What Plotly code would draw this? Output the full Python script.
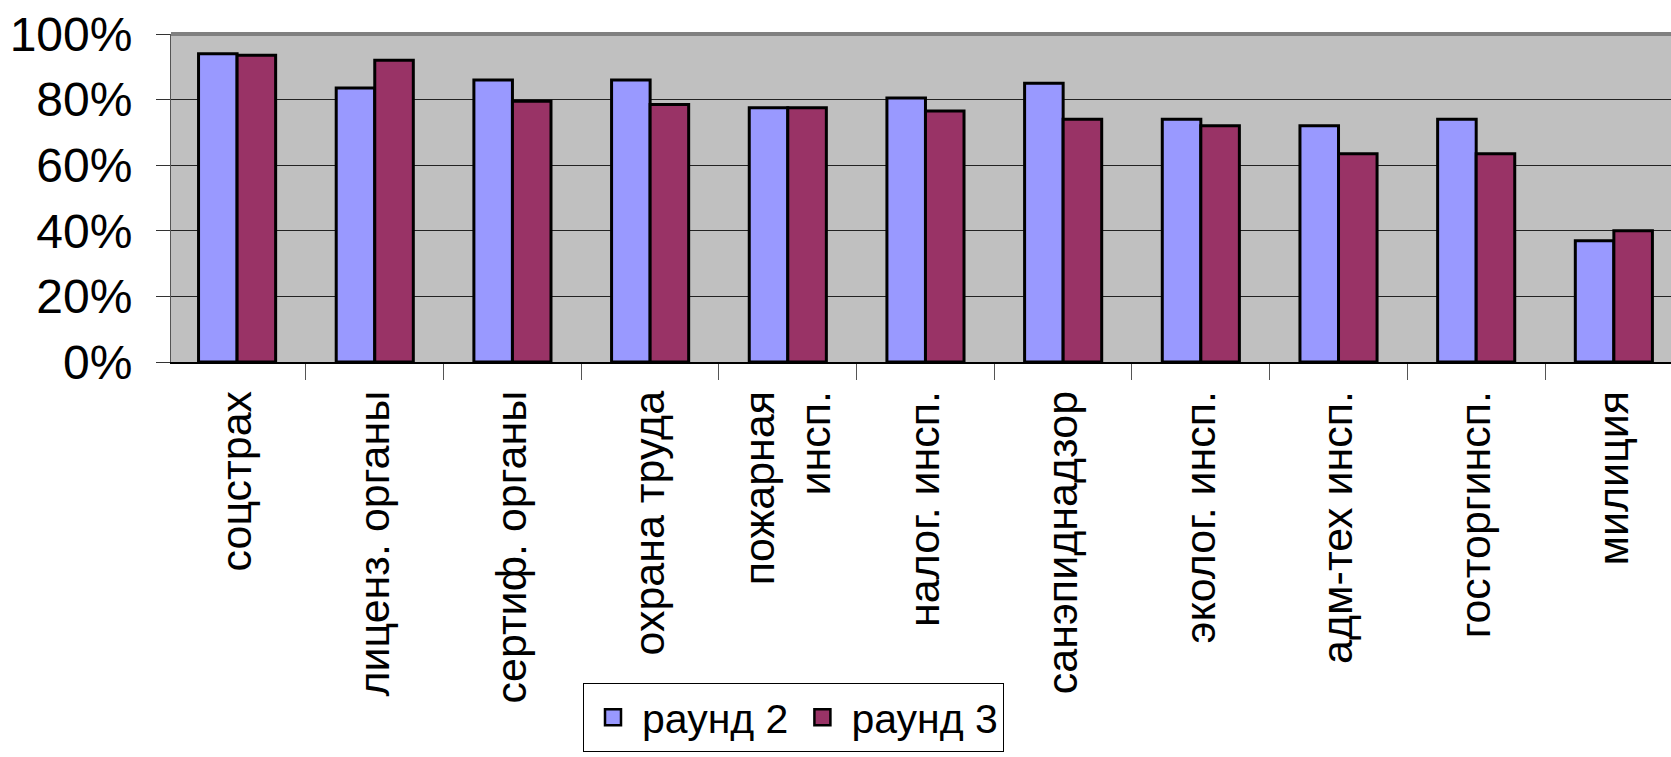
import plotly.graph_objects as go

categories = ["соцстрах", "лиценз. органы", "сертиф. органы", "охрана труда",
              "пожарная<br>инсп.", "налог. инсп.", "санэпиднадзор", "эколог. инсп.",
              "адм-тех инсп.", "госторгинсп.", "милиция"]
round2 = [0.94, 0.835, 0.86, 0.86, 0.775, 0.805, 0.85, 0.74, 0.72, 0.74, 0.37]
round3 = [0.935, 0.92, 0.795, 0.785, 0.775, 0.765, 0.74, 0.72, 0.635, 0.635, 0.40]
series_names = ["раунд 2", "раунд 3"]
series_colors = ["#9999FF", "#993366"]
y_ticks = [0, 0.2, 0.4, 0.6, 0.8, 1.0]

FONT = "Liberation Sans, Arial, sans-serif"

fig = go.Figure()
for name, vals, col in zip(series_names, [round2, round3], series_colors):
    fig.add_trace(go.Bar(
        x=categories, y=vals, name=name, showlegend=False,
        marker=dict(color=col, line=dict(color="black", width=3)),
    ))
# legend entries (larger square swatches than the default bar symbol)
for name, col in zip(series_names, series_colors):
    fig.add_trace(go.Scatter(
        x=[None], y=[None], mode="markers", name=name,
        marker=dict(symbol="square", size=16, color=col,
                    line=dict(color="black", width=2.5)),
    ))

fig.update_layout(
    width=1671, height=757,
    margin=dict(l=171, r=0, t=34, b=395, pad=0, autoexpand=False),
    paper_bgcolor="white", plot_bgcolor="#C0C0C0",
    barmode="group", bargap=0.44, bargroupgap=0,
    font=dict(family=FONT, color="black"),
    showlegend=True,
    legend=dict(
        orientation="h", xref="container", yref="container",
        x=583 / 1671, xanchor="left", y=1 - 683 / 757, yanchor="top",
        bgcolor="white", bordercolor="black", borderwidth=1,
        font=dict(size=41, family=FONT, color="black"),
        itemclick=False, itemwidth=48,
    ),
    xaxis=dict(
        range=[-0.48, 10.415], showgrid=False, tickangle=-90,
        ticks="outside", tickson="boundaries", ticklen=16, tickcolor="#555555",
        showline=True, linecolor="black", linewidth=1.5,
        tickfont=dict(size=43, family=FONT, color="black"),
        ticklabelstandoff=10, automargin=False,
        fixedrange=True,
    ),
    yaxis=dict(
        range=[0, 1], tickvals=y_ticks, tickformat=".0%",
        showgrid=True, gridcolor="#222222", gridwidth=1,
        ticks="outside", ticklen=14, tickcolor="#333333",
        showline=True, linecolor="#555555", linewidth=1,
        zeroline=False,
        tickfont=dict(size=48, family=FONT, color="black"),
        ticklabelstandoff=14, automargin=False,
        fixedrange=True,
    ),
    shapes=[dict(type="line", xref="paper", yref="paper", x0=0, x1=1, y0=1, y1=1,
                 line=dict(color="#808080", width=4))],
)

fig.write_html("out.html", config={"displayModeBar": False, "staticPlot": False},
               post_script="document.body.style.margin='0';")
